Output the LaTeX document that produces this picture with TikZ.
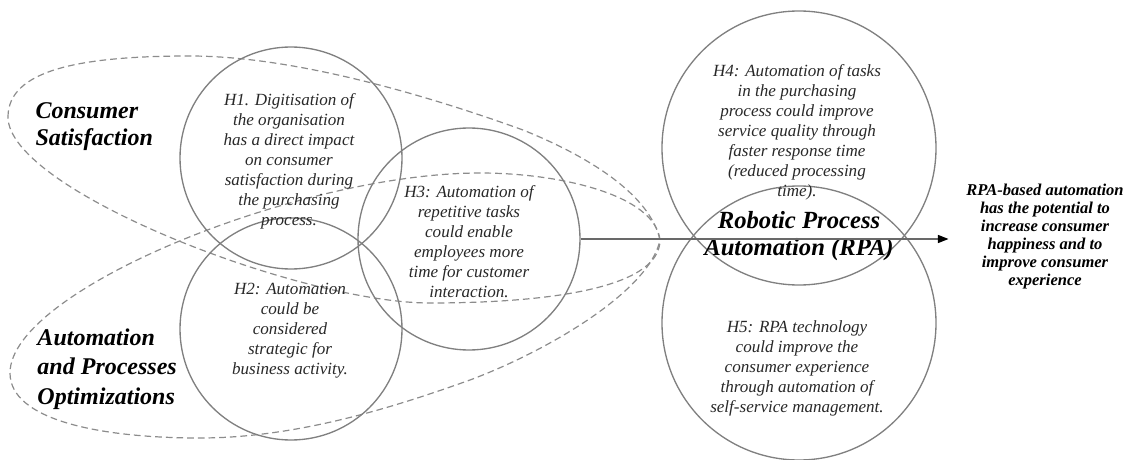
\documentclass[tikz,border=0pt]{standalone}
\usepackage{fontspec}
\setmainfont{Liberation Serif}
\usetikzlibrary{arrows.meta}

\definecolor{ringgray}{RGB}{128,128,128}
\definecolor{dashgray}{RGB}{140,140,140}
\definecolor{linegray}{RGB}{105,105,105}
\definecolor{textgray}{RGB}{40,40,40}

\tikzset{every picture/.style={line width=0.75pt}}

\begin{document}
\begin{tikzpicture}[x=0.75pt,y=0.75pt,yscale=-1,xscale=1,
	ring/.style={draw=ringgray, line width=1pt, circle, inner sep=0pt},
	group/.style={draw=dashgray, line width=0.9pt, dash pattern=on 5pt off 3pt},
	hypo/.style={align=center, inner sep=0pt, text=textgray, font=\fontsize{12.8}{15}\selectfont\itshape},
	theme/.style={align=left, anchor=west, inner sep=0pt, font=\fontsize{18}{20.25}\selectfont\bfseries\itshape},
	]
	\useasboundingbox (0,0) rectangle (1129,460);

	%Shape: Ellipse (consumer satisfaction)
	\draw [group] (8,117) .. controls (8,70) and (80,56) .. (190,56) .. controls (300,56) and (440,100) .. (523,130) .. controls (590,157) and (650,195) .. (660,240) .. controls (660,290) and (540,303) .. (430,303) .. controls (300,303) and (8,190) .. (8,117) -- cycle ;
	%Shape: Ellipse (automation)
	\draw [group] (10,373) .. controls (10,420) and (100,438) .. (200,438) .. controls (300,438) and (400,405) .. (470,380) .. controls (550,350) and (650,290) .. (660,240) .. controls (655,195) and (560,173) .. (480,173) .. controls (300,173) and (10,290) .. (10,373) -- cycle ;

	%Shape: Circles
	\node [ring, minimum size=166.5pt] (c1) at (291,158) {};
	\node [ring, minimum size=166.5pt] (c2) at (291,329) {};
	\node [ring, minimum size=166.5pt] (c3) at (469,239) {};
	\node [ring, minimum size=205.5pt] (c4) at (799,148) {};
	\node [ring, minimum size=205.5pt] (c5) at (799,323) {};

	% Text Node
	\node [theme] (cs) at (35,127) {Consumer\\Satisfaction};
	% Text Node
	\node [theme, font=\fontsize{18}{22}\selectfont\bfseries\itshape] (ap) at (37,369) {Automation\\and Processes\\Optimizations};
	% Text Node
	\node [hypo] (t1) at (289,161) {H1. Digitisation of\\the organisation\\has a direct impact\\on consumer\\satisfaction during\\the purchasing\\process.};
	% Text Node
	\node [hypo] (t2) at (290,331) {H2: Automation\\could be\\considered\\strategic for\\business activity.};
	% Text Node
	\node [hypo] (t3) at (469,242) {H3: Automation of\\repetitive tasks\\could enable\\employees more\\time for customer\\interaction.};
	% Text Node
	\node [hypo] (t4) at (797,132) {H4: Automation of tasks\\in the purchasing\\process could improve\\service quality through\\faster response time\\(reduced processing\\time).};
	% Text Node
	\node [hypo] (t5) at (797,368) {H5: RPA technology\\could improve the\\consumer experience\\through automation of\\self-service management.};
	% Text Node
	\node [align=center, inner sep=0pt, font=\fontsize{18.5}{20.25}\selectfont\bfseries\itshape] (rpa) at (799,236) {Robotic Process\\Automation (RPA)};
	% Text Node
	\node [align=center, inner sep=0pt, font=\fontsize{12.4}{13.5}\selectfont\bfseries\itshape] (out) at (1045,237) {RPA-based automation\\has the potential to\\increase consumer\\happiness and to\\improve consumer\\experience};

	%Straight Lines
	\draw [linegray, line width=1pt, shorten >=13pt, -{Triangle[color=black, length=8pt, width=6pt]}] (c3.east) -- (c3.east -| out.west) ;

\end{tikzpicture}
\end{document}
